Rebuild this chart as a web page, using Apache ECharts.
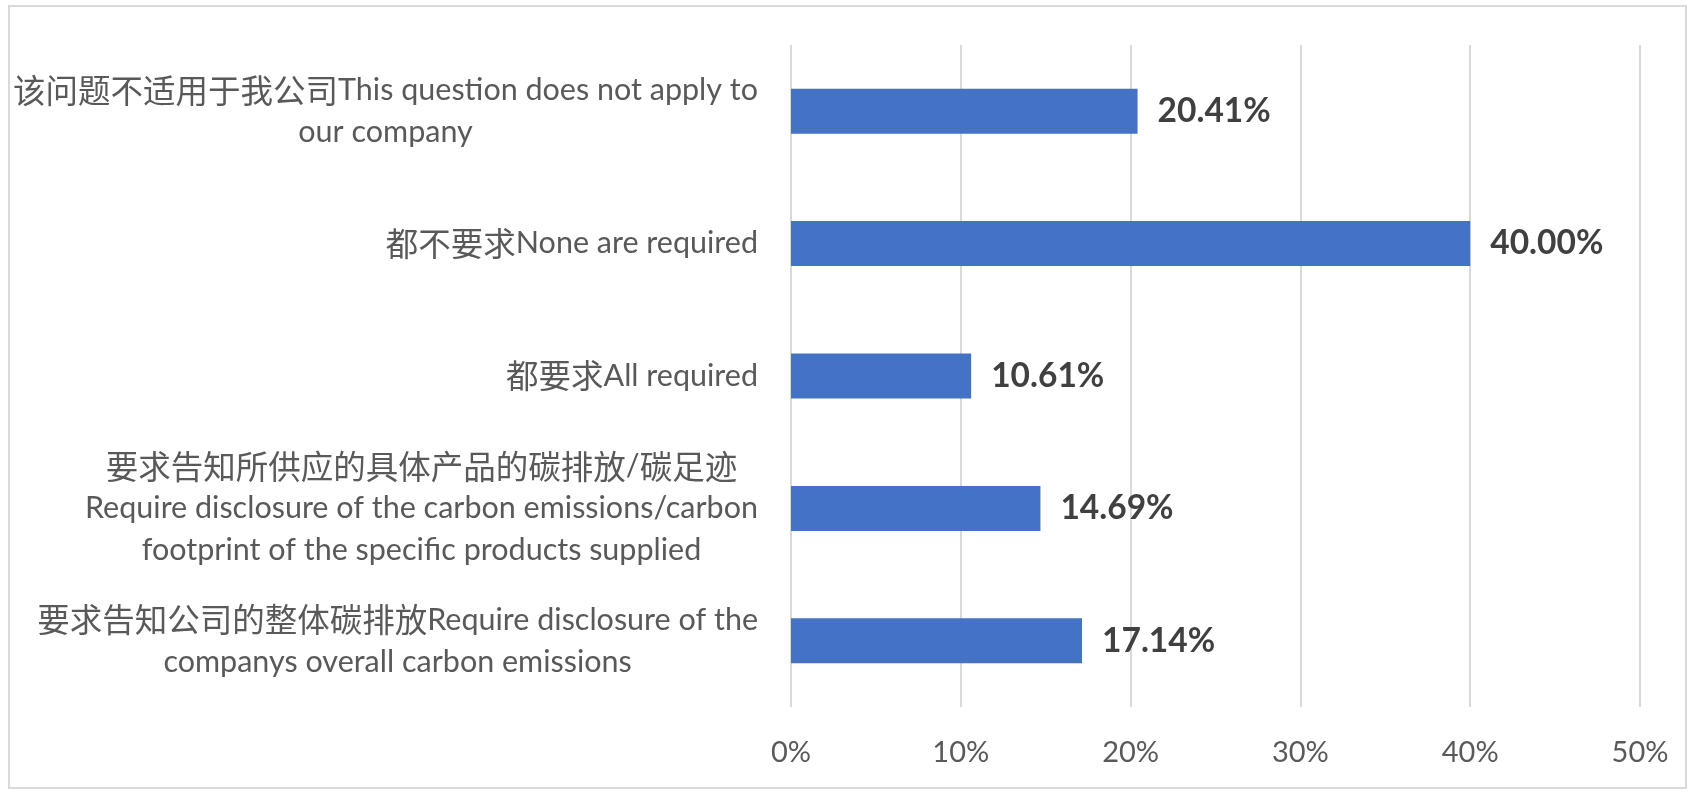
<!DOCTYPE html>
<html>
<head>
<meta charset="utf-8">
<script src="https://cdn.jsdelivr.net/npm/echarts@6/dist/echarts.min.js"></script>
<style>
html,body{margin:0;padding:0;background:#fff;}
#chart{width:1692px;height:793px;}
</style>
</head>
<body>
<div id="chart"></div>
<script>
const categories = [
  "该问题不适用于我公司This question does not apply to\nour company",
  "都不要求None are required",
  "都要求All required",
  "要求告知所供应的具体产品的碳排放/碳足迹\nRequire disclosure of the carbon emissions/carbon\nfootprint of the specific products supplied",
  "要求告知公司的整体碳排放Require disclosure of the\ncompanys overall carbon emissions"
];
const values = [20.41, 40.00, 10.61, 14.69, 17.14];
const xTicks = { min: 0, max: 50, interval: 10 };

const fontFam = "Lato, 'Noto Sans CJK SC', sans-serif";
const cjkFam = "'Noto Sans CJK SC', sans-serif";
const cjkRe = /[\u3000-\u9fff\uff00-\uffef]+|[^\u3000-\u9fff\uff00-\uffef]+/g;

const chart = echarts.init(document.getElementById('chart'));
chart.setOption({
  animation: false,
  backgroundColor: '#ffffff',
  graphic: [{
    type: 'rect', silent: true, z: -1,
    shape: { x: 9, y: 6, width: 1677, height: 782 },
    style: { fill: 'none', stroke: '#d9d9d9', lineWidth: 2 }
  }],
  grid: { left: 791, right: 52, top: 45, bottom: 86, containLabel: false },
  xAxis: {
    type: 'value',
    min: xTicks.min, max: xTicks.max, interval: xTicks.interval,
    axisLine: { show: false },
    axisTick: { show: false },
    splitLine: { show: true, lineStyle: { color: '#d9d9d9', width: 2 } },
    axisLabel: {
      formatter: '{value}%', color: '#595959', fontSize: 29,
      fontFamily: fontFam, margin: 31
    }
  },
  yAxis: {
    type: 'category',
    inverse: true,
    data: categories,
    axisLine: { show: false },
    axisTick: { show: false },
    axisLabel: {
      margin: 33,
      color: '#595959',
      fontSize: 30.5,
      fontFamily: fontFam,
      lineHeight: 42,
      formatter: function (v) {
        return v.split('\n').map(function (line) {
          return line.match(cjkRe).map(function (seg) {
            return (/[\u3000-\u9fff\uff00-\uffef]/.test(seg) ? '{z|' : '{e|') + seg + '}';
          }).join('');
        }).join('\n');
      },
      rich: {
        z: { align: 'center', color: '#595959', fontSize: 32.5, fontFamily: cjkFam, lineHeight: 42 },
        e: { align: 'center', color: '#595959', fontSize: 30.5, fontFamily: fontFam, lineHeight: 42 }
      }
    }
  },
  series: [{
    type: 'bar',
    data: values,
    barWidth: 45,
    itemStyle: { color: '#4472C4' },
    label: {
      show: true, position: 'right', distance: 20,
      formatter: function (p) { return p.value.toFixed(2) + '%'; },
      color: '#404040', fontWeight: 'bold', fontSize: 33.5, fontFamily: fontFam
    }
  }]
});
</script>
</body>
</html>
